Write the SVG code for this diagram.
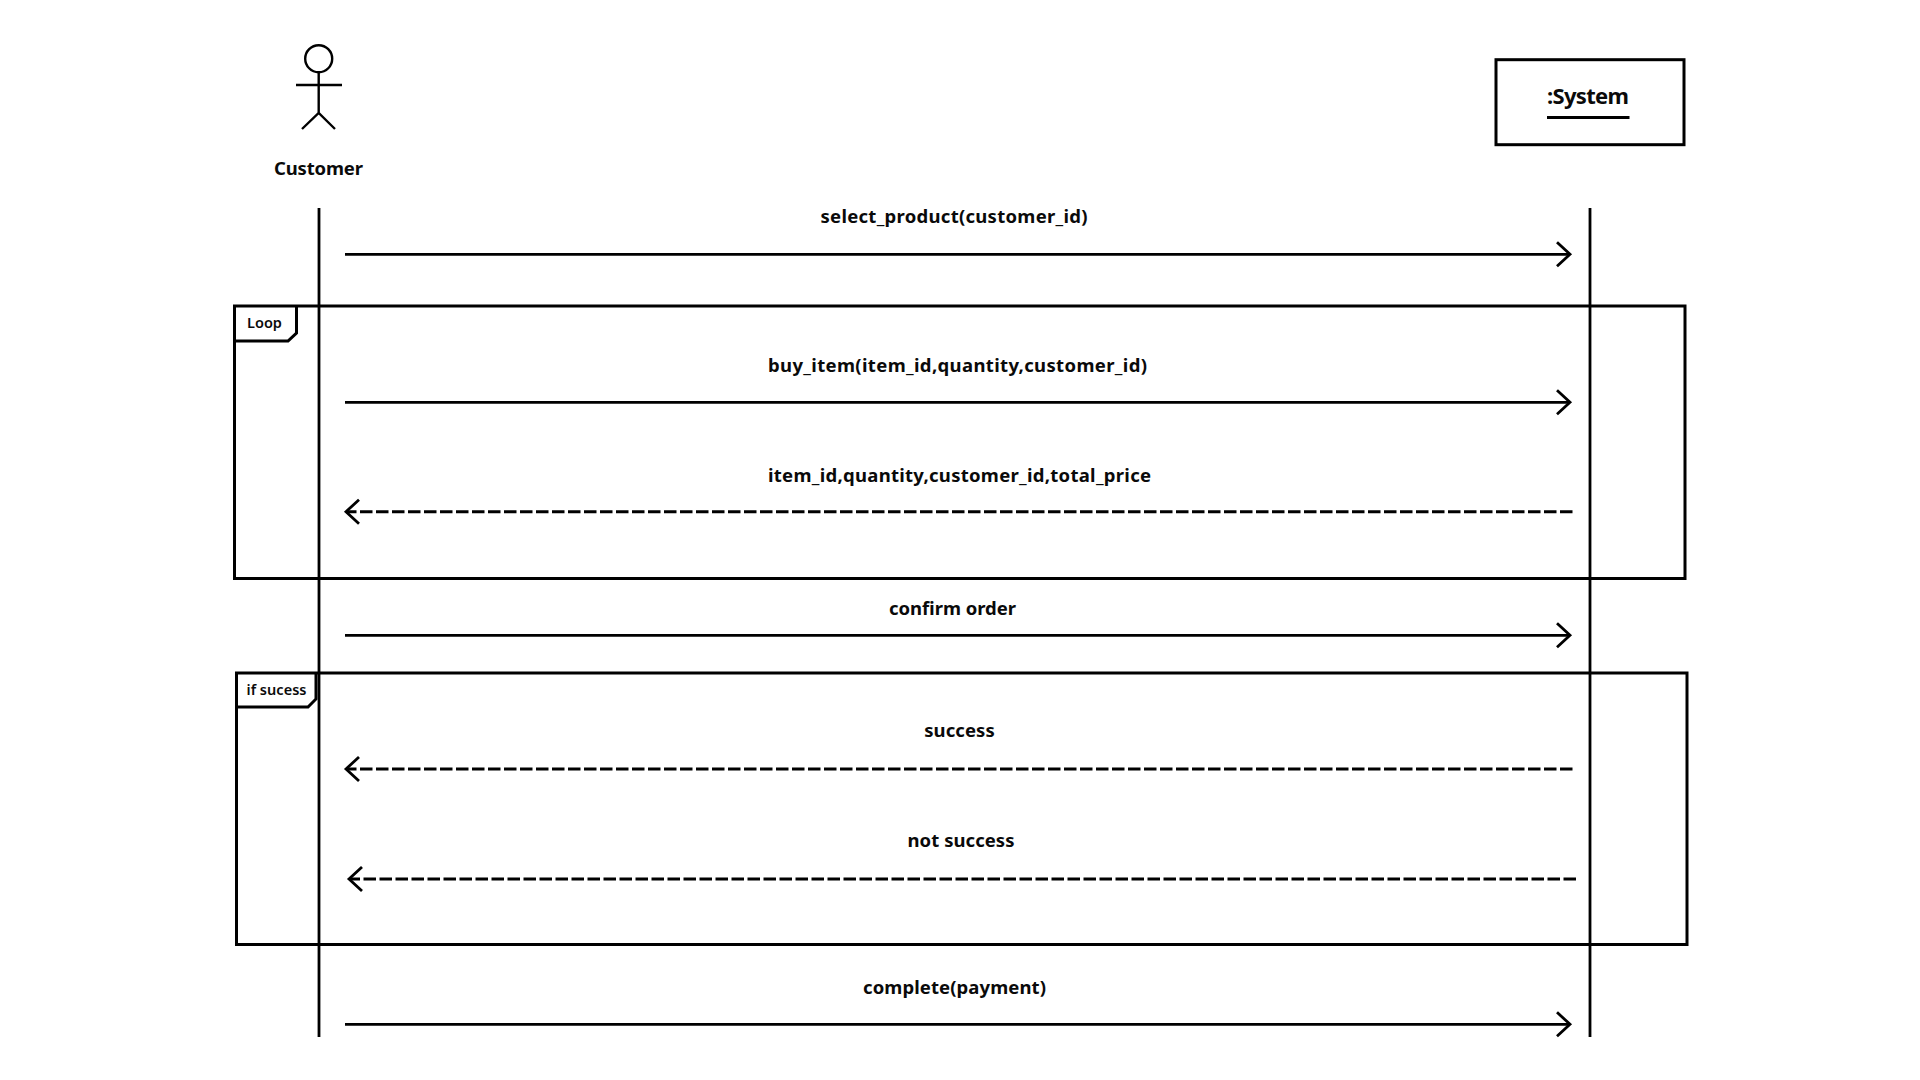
<svg xmlns="http://www.w3.org/2000/svg" width="1920" height="1080" viewBox="0 0 1920 1080">
<style>
.l{fill:none;stroke:#000;stroke-width:3}
.a{stroke-width:2.400}
.c{stroke-width:2.800}
.d{stroke-width:3;stroke-dasharray:12.500 3.500}
.t{font-family:"Noto Sans",sans-serif;font-weight:700;font-size:18.500px;fill:#0a0a0a;text-anchor:middle}
.s{font-family:"Noto Sans",sans-serif;font-weight:600;font-size:14.500px;fill:#0a0a0a;text-anchor:middle}
</style>
<defs>
<marker id="o" markerUnits="userSpaceOnUse" markerWidth="30" markerHeight="30" refX="15" refY="15" orient="auto"><path d="M2 3L15 15L2 27" fill="none" stroke="#000" stroke-width="2.800"/></marker>
</defs>
<rect width="1920" height="1080" fill="#fff"/>
<g id="customer">
<circle class="l a" cx="318.700" cy="58.700" r="13.500"/>
<path class="l a" d="M318.700 72.500V113M296 85H342M302 129L318.700 113L335 129"/>
<text class="t" x="318.500" y="175.300" textLength="89">Customer</text>
</g>
<g id="system">
<rect class="l" x="1496" y="59.700" width="188" height="85"/>
<text class="t" x="1588" y="104.300" style="font-size:22px" textLength="82">:System</text>
<path class="l" d="M1547 117.500H1629.500"/>
</g>
<g id="loop">
<rect class="l" x="234.500" y="306" width="1450.500" height="272.500"/>
<path class="l" d="M234.500 341H288L296.500 333V306"/>
<text class="s" x="264.500" y="328">Loop</text>
</g>
<g id="if-sucess">
<rect class="l" x="236.500" y="673" width="1450.500" height="271.500"/>
<path class="l" d="M236.500 707H308L316 699V673"/>
<text class="s" x="276.500" y="695" textLength="60">if sucess</text>
</g>
<g id="connectors">
<path class="l c" d="M319 208V1037M1590 208V1037"/>
<path class="l c" d="M345 254.300H1570" marker-end="url(#o)"/>
<path class="l c" d="M345 402.300H1570" marker-end="url(#o)"/>
<path class="l c d" d="M1572.500 511.700H346" marker-end="url(#o)"/>
<path class="l c" d="M345 635.300H1570" marker-end="url(#o)"/>
<path class="l c d" d="M1572.500 769H346" marker-end="url(#o)"/>
<path class="l c d" d="M1576 879H349" marker-end="url(#o)"/>
<path class="l c" d="M345 1024.300H1570" marker-end="url(#o)"/>
</g>
<g id="labels">
<text class="t" x="954" y="223.200" textLength="267">select_product(customer_id)</text>
<text class="t" x="957.500" y="372" textLength="379">buy_item(item_id,quantity,customer_id)</text>
<text class="t" x="959.500" y="482" textLength="383">item_id,quantity,customer_id,total_price</text>
<text class="t" x="952.500" y="614.500" textLength="127">confirm order</text>
<text class="t" x="959.500" y="737" textLength="70.500">success</text>
<text class="t" x="961" y="847" textLength="107">not success</text>
<text class="t" x="954.500" y="993.600" textLength="183">complete(payment)</text>
</g>
</svg>
